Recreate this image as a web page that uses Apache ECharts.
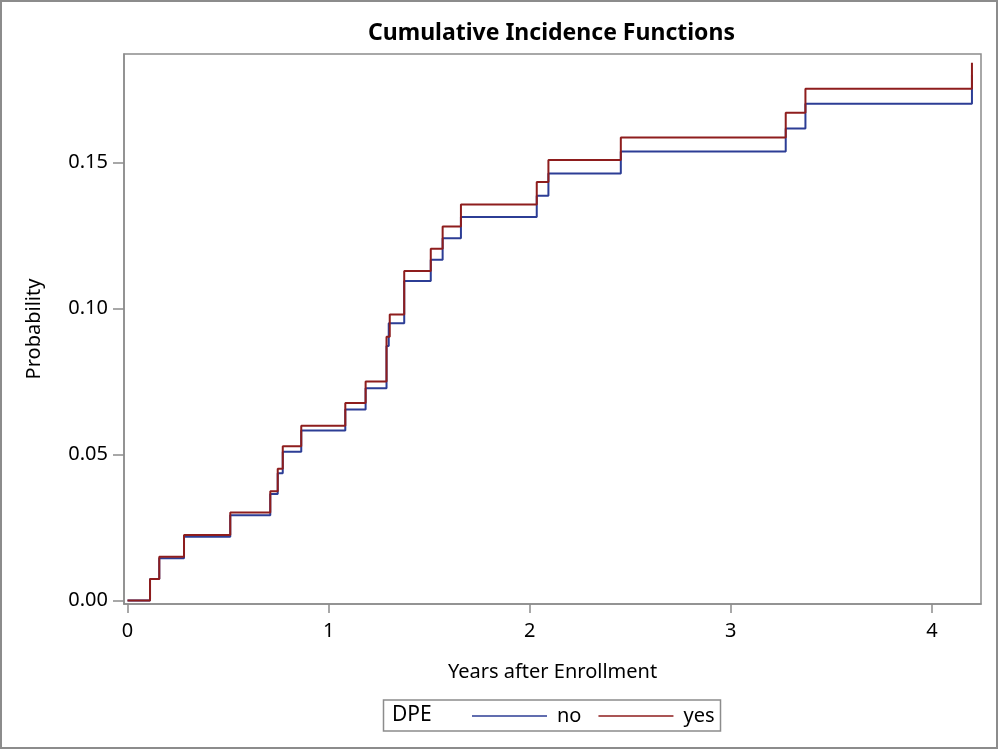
<!DOCTYPE html>
<html>
<head>
<meta charset="utf-8">
<script src="https://cdn.jsdelivr.net/npm/echarts@6/dist/echarts.min.js"></script>
<style>
html,body{margin:0;padding:0;background:#fff;}
#chart{width:1000px;height:750px;}
</style>
</head>
<body>
<div id="chart"></div>
<script>
// Data (step functions)
const noTime  = [0, 0.112, 0.158, 0.281, 0.511, 0.710, 0.747, 0.772, 0.864, 1.083, 1.184, 1.288, 1.299, 1.376, 1.508, 1.567, 1.658, 2.035, 2.093, 2.453, 3.273, 3.371, 4.199];
const noProb  = [0, 0.0074, 0.0145, 0.0218, 0.0292, 0.0365, 0.0436, 0.0509, 0.0582, 0.0654, 0.0727, 0.0871, 0.0949, 0.1094, 0.1167, 0.1240, 0.1313, 0.1386, 0.1462, 0.1537, 0.1616, 0.1701, 0.1800];
const yesTime = [0, 0.112, 0.158, 0.281, 0.511, 0.710, 0.747, 0.772, 0.864, 1.083, 1.184, 1.288, 1.304, 1.376, 1.508, 1.567, 1.658, 2.035, 2.093, 2.453, 3.273, 3.371, 4.199];
const yesProb = [0, 0.0074, 0.0150, 0.0224, 0.0301, 0.0374, 0.0451, 0.0528, 0.0598, 0.0676, 0.0750, 0.0903, 0.0979, 0.1128, 0.1204, 0.1280, 0.1356, 0.1433, 0.1508, 0.1585, 0.1670, 0.1752, 0.1841];
const xTicks = [0, 1, 2, 3, 4];
const yTicks = [0, 0.05, 0.10, 0.15];
const seriesNames = ['no', 'yes'];
const legendTitle = 'DPE';

const FONT = '"Noto Sans", "Open Sans", sans-serif';
const GRAY = '#8c8c8c';
const BLUE = '#2c3d95';
const RED = '#8e1d1d';

const zip = (a, b) => a.map((v, i) => [v, b[i]]);

const chart = echarts.init(document.getElementById('chart'), null, {renderer: 'canvas'});
chart.setOption({
  animation: false,
  backgroundColor: '#fff',
  textStyle: {fontFamily: FONT},
  title: {
    text: 'Cumulative Incidence Functions',
    left: 363, top: 17,
    textStyle: {fontFamily: FONT, fontWeight: 'bold', fontSize: 23, color: '#000'}
  },
  grid: {
    left: 124, right: 19, top: 54, bottom: 146,
    show: true, borderColor: GRAY, borderWidth: 1.5, backgroundColor: '#fff'
  },
  xAxis: {
    type: 'value',
    min: -0.0174, max: 4.244,
    name: 'Years after Enrollment',
    nameLocation: 'middle', nameGap: 58,
    nameTextStyle: {fontFamily: FONT, fontSize: 20, color: '#000'},
    axisLine: {show: true, onZero: false, lineStyle: {color: GRAY, width: 1.5}},
    axisTick: {show: true, length: 9, lineStyle: {color: GRAY, width: 1.5}, customValues: xTicks},
    axisLabel: {customValues: xTicks, margin: 17, fontFamily: FONT, fontSize: 20, color: '#000',
      formatter: v => String(v)},
    splitLine: {show: false}
  },
  yAxis: {
    type: 'value',
    min: -0.0012, max: 0.1871,
    name: 'Probability',
    nameLocation: 'middle', nameGap: 80, nameRotate: 90,
    nameTextStyle: {fontFamily: FONT, fontSize: 20, color: '#000'},
    axisLine: {show: true, onZero: false, lineStyle: {color: GRAY, width: 1.5}},
    axisTick: {show: true, length: 11, lineStyle: {color: GRAY, width: 1.5}, customValues: yTicks},
    axisLabel: {customValues: yTicks, margin: 16, fontFamily: FONT, fontSize: 20, color: '#000',
      formatter: v => v.toFixed(2)},
    splitLine: {show: false}
  },
  legend: {
    data: seriesNames,
    left: 472, top: 706, padding: 0,
    itemWidth: 75, itemHeight: 20, itemGap: 17,
    icon: 'path://M0,9.3 L75,9.3 L75,10.7 L0,10.7 Z',
    textStyle: {fontFamily: FONT, fontSize: 20, color: '#000', padding: [0, 0, 0, 5]}
  },
  graphic: [
    {type: 'rect', shape: {x: 1, y: 1, width: 996, height: 747}, style: {fill: null, stroke: GRAY, lineWidth: 2}, silent: true},
    {type: 'rect', shape: {x: 383.5, y: 700, width: 337, height: 31}, style: {fill: null, stroke: GRAY, lineWidth: 1.5}, silent: true},
    {type: 'text', left: 392, top: 705, style: {text: legendTitle, font: '21px ' + FONT, fill: '#000'}}
  ],
  series: [
    {name: seriesNames[0], type: 'line', step: 'end', symbol: 'none', data: zip(noTime, noProb),
      lineStyle: {color: BLUE, width: 2}, itemStyle: {color: BLUE}},
    {name: seriesNames[1], type: 'line', step: 'end', symbol: 'none', data: zip(yesTime, yesProb),
      lineStyle: {color: RED, width: 2}, itemStyle: {color: RED}}
  ]
});
</script>
</body>
</html>
